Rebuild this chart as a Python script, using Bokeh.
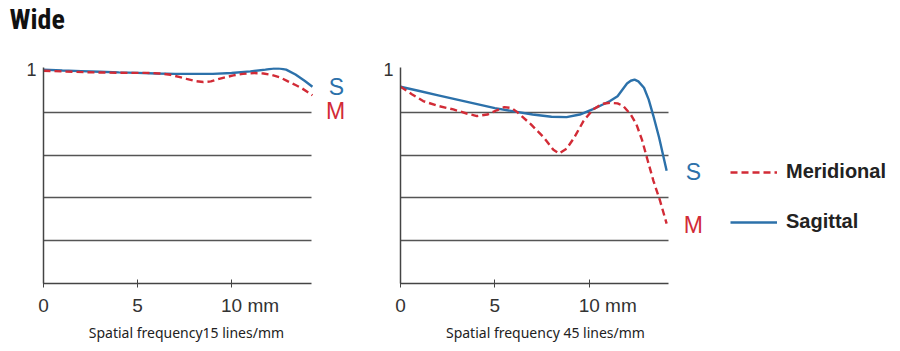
from bokeh.plotting import figure
from bokeh.layouts import row
from bokeh.models import FixedTicker, Label, Legend, LegendItem, Range1d, LinearAxis, Title
from bokeh.embed import file_html
from bokeh.resources import INLINE

# ---- data ----
x_ticks = [0, 5, 10]
x_tick_labels = {0: "0", 5: "5", 10: "\u00a0\u00a0\u00a0\u00a0\u00a0\u00a0\u00a010 mm"}
grid_levels = [0.2, 0.4, 0.6, 0.8]

# 15 lines/mm
s15_x = [0, 1, 2, 3, 4, 5, 6, 7, 8, 9, 10, 11, 11.8, 12.2, 12.5, 12.9, 13.4, 13.9, 14.3]
s15_y = [1.0, 0.996, 0.993, 0.99, 0.987, 0.985, 0.982, 0.98, 0.98, 0.98, 0.984, 0.992, 1.0, 1.005, 1.006, 1.0, 0.977, 0.947, 0.92]
m15_x = [0, 1.2, 2.3, 3.5, 4.5, 5.5, 6.2, 6.75, 7.2, 7.6, 8.1, 8.5, 8.9, 9.2, 9.6, 10.1, 10.6, 11.2, 11.7, 12.1, 12.6, 13.0, 13.4, 13.7, 14.0, 14.3]
m15_y = [0.995, 0.991, 0.988, 0.986, 0.985, 0.985, 0.982, 0.976, 0.966, 0.957, 0.946, 0.942, 0.945, 0.953, 0.963, 0.973, 0.98, 0.984, 0.982, 0.976, 0.963, 0.945, 0.928, 0.915, 0.898, 0.88]

# 45 lines/mm
s45_x = [0, 1, 2, 3, 4, 5, 6, 7, 8, 8.8, 9.5, 10.2, 10.75, 11.1, 11.5, 12.0, 12.2, 12.4, 12.6, 12.9, 13.15, 13.4, 13.7, 14.1]
s45_y = [0.92, 0.9, 0.88, 0.86, 0.84, 0.82, 0.805, 0.79, 0.78, 0.778, 0.79, 0.815, 0.838, 0.853, 0.876, 0.935, 0.948, 0.953, 0.945, 0.915, 0.86, 0.783, 0.683, 0.527]
m45_x = [0, 0.6, 1.2, 2.0, 2.8, 3.5, 4.05, 4.6, 5.1, 5.5, 5.9, 6.2, 6.9, 7.6, 8.1, 8.4, 8.8, 9.2, 9.7, 10.2, 10.7, 11.1, 11.5, 11.8, 12.2, 12.5, 12.8, 13.1, 13.4, 13.75, 14.1]
m45_y = [0.92, 0.885, 0.853, 0.83, 0.814, 0.795, 0.783, 0.79, 0.81, 0.825, 0.82, 0.8, 0.745, 0.682, 0.625, 0.608, 0.63, 0.682, 0.76, 0.814, 0.84, 0.845, 0.842, 0.83, 0.79, 0.744, 0.67, 0.574, 0.48, 0.387, 0.28]

captions = ["Spatial frequency15 lines/mm", "Spatial frequency 45 lines/mm"]
caption_at = [7.6, 7.68]
legend_labels = ["Meridional", "Sagittal"]
title_text = "Wide"

BLUE = "#2c71aa"
RED = "#d22b36"
AXIS = "#444444"
GRID = "#555555"
TXT = "#333333"


def make_panel(width, border_left, x_view_end, x_end, sx, sy, mx, my, caption, cap_x):
    p = figure(width=width, height=351, output_backend="svg", toolbar_location=None,
               min_border_left=border_left, min_border_right=0,
               min_border_top=66, min_border_bottom=68,
               x_range=Range1d(0, x_view_end), y_range=Range1d(0, 1.01))
    p.outline_line_color = None
    p.background_fill_color = None
    p.border_fill_color = None
    p.xgrid.visible = False
    p.ygrid.ticker = FixedTicker(ticks=grid_levels)
    p.ygrid.grid_line_color = GRID
    p.ygrid.grid_line_width = 1.3
    p.ygrid.cross_bounds = (0, x_end)

    p.xaxis.bounds = (0, x_end)
    p.xaxis.ticker = FixedTicker(ticks=x_ticks)
    p.xaxis.major_label_overrides = x_tick_labels
    p.xaxis.minor_tick_line_color = None
    p.xaxis.major_tick_in = 4
    p.xaxis.major_tick_out = 4
    p.xaxis.major_tick_line_color = AXIS
    p.xaxis.axis_line_color = AXIS
    p.xaxis.axis_line_width = 1.5
    p.xaxis.major_label_text_font = "Liberation Sans"
    p.xaxis.major_label_text_font_size = "19px"
    p.xaxis.major_label_text_color = TXT
    p.xaxis.major_label_standoff = 7

    p.yaxis.bounds = (0, 1.01)
    p.yaxis.ticker = FixedTicker(ticks=[1])
    p.yaxis.minor_tick_line_color = None
    p.yaxis.major_tick_line_color = None
    p.yaxis.major_tick_out = 0
    p.yaxis.major_tick_in = 0
    p.yaxis.axis_line_color = AXIS
    p.yaxis.axis_line_width = 1.5
    p.yaxis.major_label_text_font = "Liberation Sans"
    p.yaxis.major_label_text_font_size = "18px"
    p.yaxis.major_label_text_color = TXT
    p.yaxis.major_label_standoff = 7

    cap_axis = LinearAxis(ticker=FixedTicker(ticks=[cap_x]),
                          major_label_overrides={cap_x: caption},
                          axis_line_color=None, major_tick_line_color=None,
                          minor_tick_line_color=None, major_tick_out=0, major_tick_in=0,
                          major_label_text_font="Noto Sans", major_label_text_font_size="14px",
                          major_label_text_color="#222222", major_label_standoff=4)
    p.add_layout(cap_axis, "below")

    rs = p.line(sx, sy, line_color=BLUE, line_width=2.4)
    rm = p.line(mx, my, line_color=RED, line_width=2.4, line_dash="7 4")
    return p, rs, rm


p1, s1, m1 = make_panel(355, 43, 16.59, 14.25, s15_x, s15_y, m15_x, m15_y, captions[0], caption_at[0])
p2, s2, m2 = make_panel(545, 45, 26.49, 14.2, s45_x, s45_y, m45_x, m45_y, captions[1], caption_at[1])

# S / M end labels
for p, (sxv, syv), (mxv, myv) in [(p1, (15.58, 0.917), (15.53, 0.805)),
                                  (p2, (15.52, 0.521), (15.52, 0.275))]:
    p.add_layout(Label(x=sxv, y=syv, text="S", text_color=BLUE, text_font="Liberation Sans",
                       text_font_size="23px", text_align="center", text_baseline="middle"))
    p.add_layout(Label(x=mxv, y=myv, text="M", text_color=RED, text_font="Liberation Sans",
                       text_font_size="23px", text_align="center", text_baseline="middle"))

# Title: a thin spacer title next to the frame, then the real title above it
spacer = Title(text="\u00a0", text_font_size="1px", standoff=29)
main_title = Title(text=title_text, align="left", offset=-34, standoff=0,
                   text_font="'Roboto Condensed', Roboto, sans-serif",
                   text_font_style="bold", text_font_size="28px", text_color="#111111")
p1.add_layout(spacer, "above")
p1.add_layout(main_title, "above")

legend = Legend(items=[LegendItem(label=legend_labels[0], renderers=[m2]),
                       LegendItem(label=legend_labels[1], renderers=[s2])],
                location=(330, 50), orientation="vertical",
                glyph_width=47, glyph_height=20, spacing=27, label_standoff=9,
                padding=0, margin=0, border_line_color=None, background_fill_alpha=0,
                label_text_font="Liberation Sans", label_text_font_style="bold",
                label_text_font_size="20px", label_text_color="#222222",
                label_height=20)
p2.add_layout(legend)

layout = row(p1, p2, spacing=0)
open("out.html", "w").write(file_html(layout, INLINE))
